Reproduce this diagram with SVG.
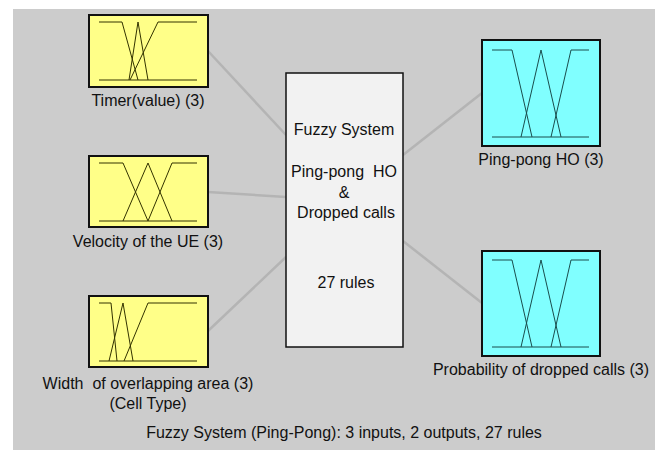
<svg xmlns="http://www.w3.org/2000/svg" width="662" height="450" viewBox="0 0 662 450">
  <style>
    .bg { fill: #cccccc; }
    .link { stroke: #b4b4b4; stroke-width: 2.5; fill: none; }
    .box { stroke: #111111; stroke-width: 2; }
    .in { fill: #ffff88; }
    .out { fill: #80ffff; }
    .sys { fill: #f2f2f2; stroke: #111111; stroke-width: 1.5; }
    .mf-in { stroke: #333300; stroke-width: 1; fill: none; }
    .mf-out { stroke: #1a4d4d; stroke-width: 1; fill: none; }
    text { font-family: "Liberation Sans", Arial, sans-serif; font-size: 16px; fill: #111111; text-anchor: middle; }
  </style>

  <rect class="bg" x="13" y="9" width="642" height="441"/>

  <g id="connectors">
    <line class="link" x1="208" y1="51" x2="286" y2="135"/>
    <line class="link" x1="208" y1="192" x2="286" y2="197"/>
    <line class="link" x1="208" y1="331" x2="286" y2="257"/>
    <line class="link" x1="403" y1="155" x2="482" y2="93"/>
    <line class="link" x1="403" y1="241" x2="482" y2="303"/>
  </g>

  <g id="input-timer">
    <rect class="box in" x="89" y="15" width="119" height="72"/>
    <line class="mf-in" x1="99" y1="80" x2="197" y2="80"/>
    <polyline class="mf-in" points="99,22 122,22 138,80"/>
    <polyline class="mf-in" points="129,80 138,22 148,80"/>
    <polyline class="mf-in" points="130,80 158,22 197,22"/>
    <text x="148" y="106">Timer(value) (3)</text>
  </g>

  <g id="input-velocity">
    <rect class="box in" x="89" y="156" width="119" height="71"/>
    <line class="mf-in" x1="99" y1="221" x2="197" y2="221"/>
    <polyline class="mf-in" points="99,163 123,163 148,221"/>
    <polyline class="mf-in" points="123,221 148,163 172,221"/>
    <polyline class="mf-in" points="148,221 172,163 197,163"/>
    <text x="148" y="247">Velocity of the UE (3)</text>
  </g>

  <g id="input-width">
    <rect class="box in" x="89" y="296" width="119" height="71"/>
    <line class="mf-in" x1="99" y1="361" x2="197" y2="361"/>
    <polyline class="mf-in" points="99,303 111,303 117,361"/>
    <polyline class="mf-in" points="109,361 123,303 133,361"/>
    <polyline class="mf-in" points="124,361 148,303 197,303"/>
    <text x="148" y="389" xml:space="preserve">Width  of overlapping area (3)</text>
    <text x="148" y="409">(Cell Type)</text>
  </g>

  <g id="system">
    <rect class="sys" x="286" y="73" width="117" height="274"/>
    <text x="344" y="135">Fuzzy System</text>
    <text x="344" y="177" xml:space="preserve">Ping-pong  HO</text>
    <text x="344" y="198">&amp;</text>
    <text x="346" y="218">Dropped calls</text>
    <text x="346" y="288">27 rules</text>
  </g>

  <g id="output-pingpong">
    <rect class="box out" x="482" y="40" width="118" height="106"/>
    <line class="mf-out" x1="492" y1="137" x2="589" y2="137"/>
    <polyline class="mf-out" points="492,50 512,50 532,137"/>
    <polyline class="mf-out" points="521,137 541,50 561,137"/>
    <polyline class="mf-out" points="551,137 571,50 589,50"/>
    <text x="541" y="165">Ping-pong HO (3)</text>
  </g>

  <g id="output-dropped">
    <rect class="box out" x="482" y="251" width="118" height="105"/>
    <line class="mf-out" x1="492" y1="347" x2="589" y2="347"/>
    <polyline class="mf-out" points="492,260 512,260 532,347"/>
    <polyline class="mf-out" points="521,347 541,260 561,347"/>
    <polyline class="mf-out" points="551,347 571,260 589,260"/>
    <text x="541" y="375">Probability of dropped calls (3)</text>
  </g>

  <text x="344" y="438">Fuzzy System (Ping-Pong): 3 inputs, 2 outputs, 27 rules</text>
</svg>
